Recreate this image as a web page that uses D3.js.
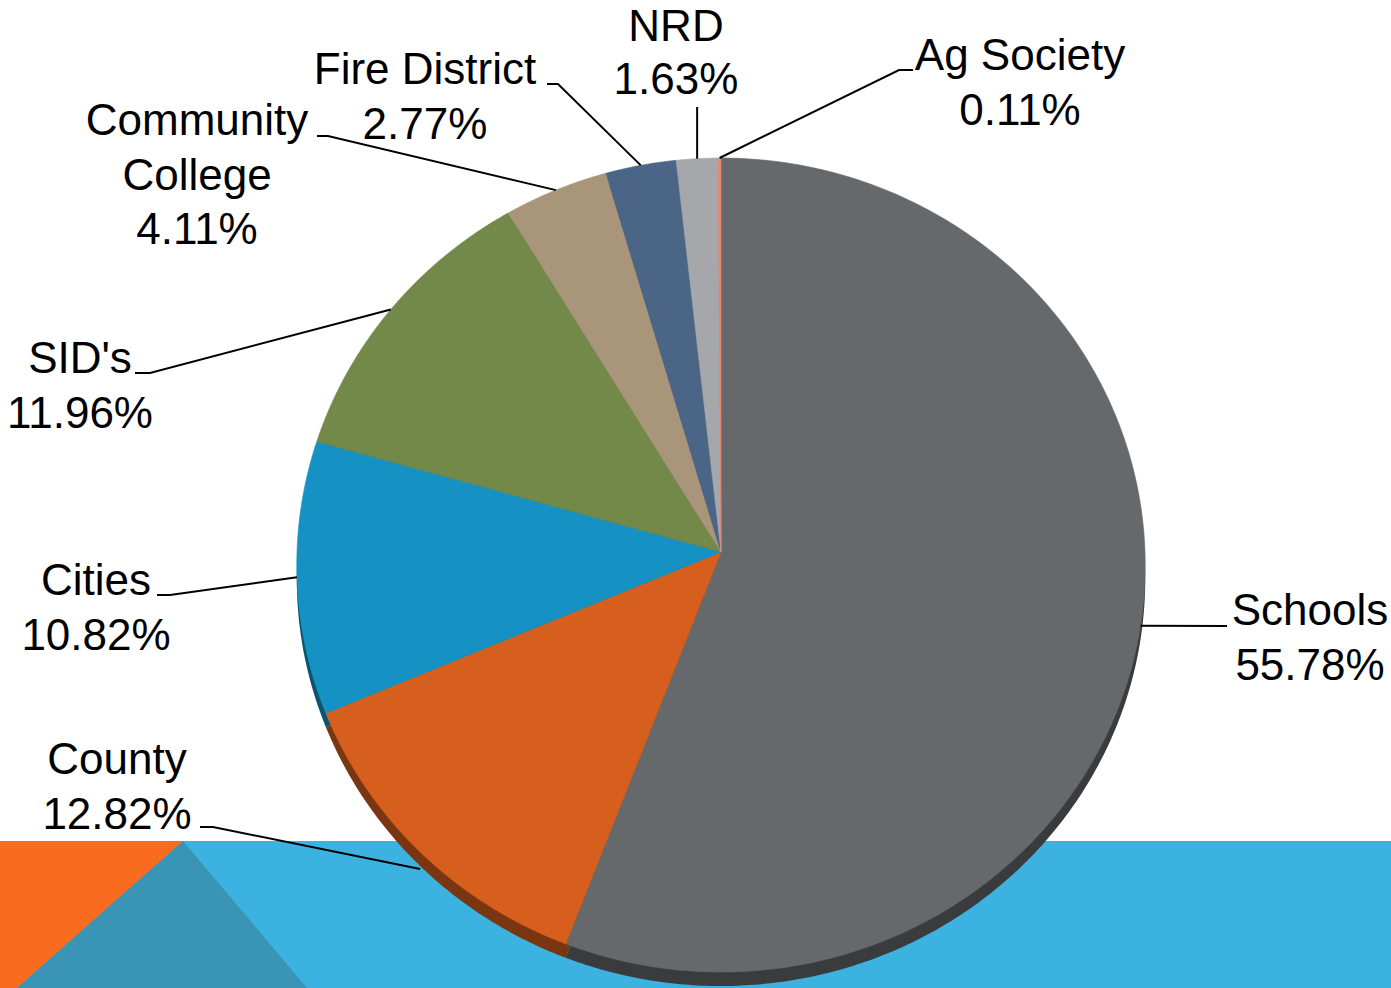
<!DOCTYPE html>
<html>
<head>
<meta charset="utf-8">
<script src="https://cdn.jsdelivr.net/npm/d3@7/dist/d3.min.js"></script>
<style>
  html, body { margin: 0; padding: 0; background: #ffffff; }
  svg { display: block; }
  text { font-family: "Liberation Sans", Arial, sans-serif; font-size: 44px; fill: #000; }
</style>
</head>
<body>
<svg id="chart" width="1391" height="988"></svg>
<script>
// ---- data ----
const categories = ["Schools", "County", "Cities", "SID's", "Community College", "Fire District", "NRD", "Ag Society"];
const shares = [55.78, 12.82, 10.82, 11.96, 4.11, 2.77, 1.63, 0.11];
const valueLabels = ["55.78%", "12.82%", "10.82%", "11.96%", "4.11%", "2.77%", "1.63%", "0.11%"];

// ---- styles ----
const sliceColors = ["#66696C", "#D75F1E", "#1592C3", "#72894A", "#A8957A", "#4A6585", "#A6A7AB", "#E98770"];

// label layout: text lines, centre x, first baseline, leader path start points
const labelLayout = [
  { lines: ["Schools"], cx: 1310, y: 625, lead: [[1227, 626]] },
  { lines: ["County"], cx: 117, y: 774, lead: [[200, 827], [213, 827]], depthAnchor: true },
  { lines: ["Cities"], cx: 96, y: 595, lead: [[157, 595], [170, 595]] },
  { lines: ["SID's"], cx: 80, y: 373, lead: [[135, 373], [150, 373]] },
  { lines: ["Community", "College"], cx: 197, y: 135, lead: [[317, 136], [328, 136]] },
  { lines: ["Fire District"], cx: 425, y: 84, lead: [[547, 84], [558, 84]] },
  { lines: ["NRD"], cx: 676, y: 41, gap: 53, lead: [[null, 107]] },
  { lines: ["Ag Society"], cx: 1020, y: 70, lead: [[913, 70], [899, 70]] }
];

const W = 1391, H = 988;
const svg = d3.select("#chart");

// ---- background band ----
svg.append("rect").attr("x", 0).attr("y", 841).attr("width", W).attr("height", H - 841).attr("fill", "#3BB2E0");
svg.append("polygon").attr("points", "0,841 183,841 17,988 0,988").attr("fill", "#F96B1E");
svg.append("polygon").attr("points", "183,841 17,988 307,988").attr("fill", "#3A94B5");

// ---- perspective pie projection ----
const apex = { x: 721, y: 552 };
const rx = 424, ry = 406.6, tilt = 0.032, depth = 14;
function proj(angle, dy = 0) {
  const x = Math.sin(angle), y = -Math.cos(angle);
  const k = 1 / (1 - tilt * y);
  return [apex.x + rx * x * k, apex.y + ry * y * k + dy];
}

const pie = d3.pie().sort(null).value(d => d)(shares);
const line = d3.line();

function slicePath(d, dy) {
  const n = Math.max(2, Math.ceil((d.endAngle - d.startAngle) / 0.01));
  const pts = [[apex.x, apex.y + dy]];
  for (let i = 0; i <= n; i++) {
    const a = d.startAngle + (d.endAngle - d.startAngle) * i / n;
    pts.push(proj(a, dy));
  }
  return line(pts) + "Z";
}

// depth (side walls)
svg.append("g").selectAll("path").data(pie).join("path")
  .attr("d", d => slicePath(d, depth))
  .attr("fill", (d, i) => d3.color(sliceColors[i]).darker(1.6));

// top faces
svg.append("g").selectAll("path").data(pie).join("path")
  .attr("d", d => slicePath(d, 0))
  .attr("fill", (d, i) => sliceColors[i])
  .attr("stroke", (d, i) => sliceColors[i])
  .attr("stroke-width", 0.6);

// ---- leader lines ----
const leaders = svg.append("g");
pie.forEach((d, i) => {
  const L = labelLayout[i];
  const mid = (d.startAngle + d.endAngle) / 2;
  const anchor = proj(mid, L.depthAnchor ? depth + 3 : 0);
  const pts = L.lead.map(p => [p[0] === null ? anchor[0] : p[0], p[1]]);
  pts.push(anchor);
  leaders.append("path").attr("d", line(pts)).attr("fill", "none")
    .attr("stroke", "#000").attr("stroke-width", 2);
});

// ---- labels ----
const lineGap = 54.5;
const labels = svg.append("g");
categories.forEach((c, i) => {
  const L = labelLayout[i];
  const allLines = L.lines.concat([valueLabels[i]]);
  allLines.forEach((t, j) => {
    labels.append("text").attr("x", L.cx).attr("y", L.y + j * (L.gap || lineGap))
      .attr("text-anchor", "middle").text(t);
  });
});
</script>
</body>
</html>
